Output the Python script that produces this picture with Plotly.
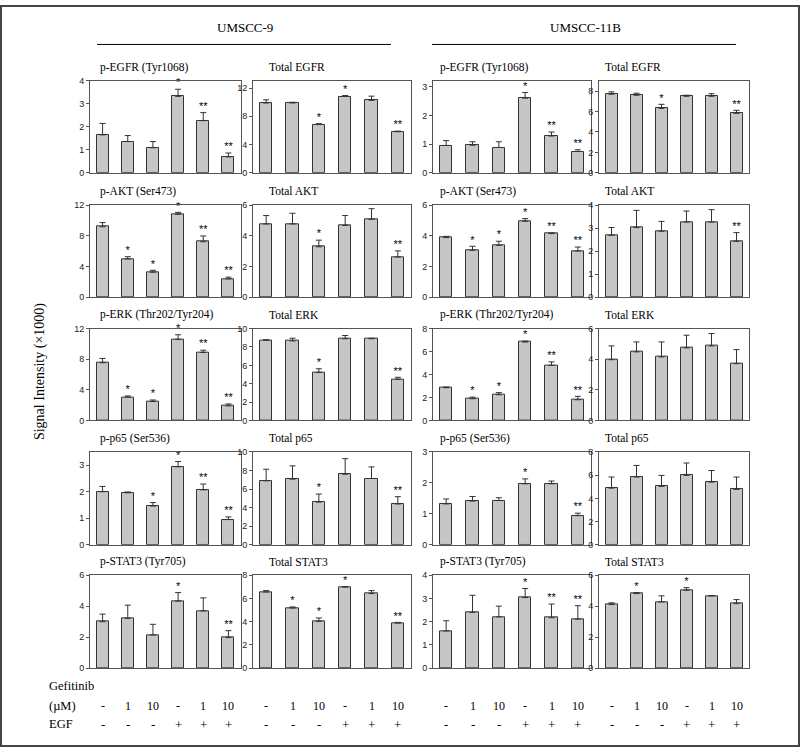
import plotly.graph_objects as go

W, H = 800, 752

# ---------------- data ----------------
conditions = [0, 1, 2, 3, 4, 5]
gefitinib_labels = ["-", "1", "10", "-", "1", "10"]
egf_labels = ["-", "-", "-", "+", "+", "+"]
cell_lines = ["UMSCC-9", "UMSCC-11B"]

row_titles = [
    ["p-EGFR (Tyr1068)", "Total EGFR", "p-EGFR (Tyr1068)", "Total EGFR"],
    ["p-AKT (Ser473)", "Total AKT", "p-AKT (Ser473)", "Total AKT"],
    ["p-ERK (Thr202/Tyr204)", "Total ERK", "p-ERK (Thr202/Tyr204)", "Total ERK"],
    ["p-p65 (Ser536)", "Total p65", "p-p65 (Ser536)", "Total p65"],
    ["p-STAT3 (Tyr705)", "Total STAT3", "p-STAT3 (Tyr705)", "Total STAT3"],
]

# UMSCC-9
pegfr_9 = [1.65, 1.36, 1.09, 3.33, 2.27, 0.69]
pegfr_9_err = [0.50, 0.26, 0.27, 0.31, 0.35, 0.17]
pegfr_9_sig = ["", "", "", "*", "**", "**"]
tegfr_9 = [9.88, 9.88, 6.83, 10.8, 10.25, 5.81]
tegfr_9_err = [0.45, 0.10, 0.12, 0.14, 0.60, 0.08]
tegfr_9_sig = ["", "", "*", "*", "", "**"]
pakt_9 = [9.19, 4.98, 3.25, 10.83, 7.24, 2.38]
pakt_9_err = [0.55, 0.30, 0.25, 0.25, 0.75, 0.22]
pakt_9_sig = ["", "*", "*", "*", "**", "**"]
takt_9 = [4.78, 4.78, 3.29, 4.68, 5.08, 2.62]
takt_9_err = [0.55, 0.70, 0.43, 0.65, 0.70, 0.40]
takt_9_sig = ["", "", "*", "", "", "**"]
perk_9 = [7.54, 3.03, 2.47, 10.6, 8.88, 1.90]
perk_9_err = [0.56, 0.17, 0.20, 0.60, 0.30, 0.25]
perk_9_sig = ["", "*", "*", "*", "**", "**"]
terk_9 = [8.74, 8.66, 5.23, 8.9, 8.9, 4.48]
terk_9_err = [0.05, 0.30, 0.40, 0.35, 0.05, 0.22]
terk_9_sig = ["", "", "*", "", "", "**"]
pp65_9 = [2.00, 1.96, 1.46, 2.94, 2.07, 0.95]
pp65_9_err = [0.20, 0.03, 0.13, 0.20, 0.22, 0.10]
pp65_9_sig = ["", "", "*", "*", "**", "**"]
tp65_9 = [6.89, 7.07, 4.60, 7.60, 7.14, 4.39]
tp65_9_err = [1.25, 1.43, 0.86, 1.68, 1.25, 0.79]
tp65_9_sig = ["", "", "*", "", "", "**"]
pstat3_9 = [3.00, 3.21, 2.14, 4.33, 3.70, 1.97]
pstat3_9_err = [0.49, 0.86, 0.69, 0.55, 0.84, 0.45]
pstat3_9_sig = ["", "", "", "*", "", "**"]
tstat3_9 = [6.56, 5.18, 4.03, 6.99, 6.42, 3.88]
tstat3_9_err = [0.12, 0.09, 0.29, 0.04, 0.26, 0.06]
tstat3_9_sig = ["", "*", "*", "*", "", "**"]

# UMSCC-11B
pegfr_11b = [0.95, 0.96, 0.88, 2.60, 1.28, 0.74]
pegfr_11b_err = [0.17, 0.12, 0.20, 0.20, 0.14, 0.06]
pegfr_11b_sig = ["", "", "", "*", "**", "**"]
tegfr_11b = [7.70, 7.60, 6.31, 7.50, 7.50, 5.82]
tegfr_11b_err = [0.23, 0.20, 0.40, 0.10, 0.25, 0.30]
tegfr_11b_sig = ["", "", "*", "", "", "**"]
pakt_11b = [3.89, 3.06, 3.38, 4.96, 4.15, 3.01]
pakt_11b_err = [0.08, 0.26, 0.27, 0.17, 0.04, 0.26]
pakt_11b_sig = ["", "*", "*", "*", "**", "**"]
takt_11b = [2.69, 3.03, 2.87, 3.27, 3.27, 2.43]
takt_11b_err = [0.34, 0.75, 0.43, 0.48, 0.54, 0.38]
takt_11b_sig = ["", "", "", "", "", "**"]
perk_11b = [2.85, 1.89, 2.24, 6.83, 4.80, 1.80]
perk_11b_err = [0.06, 0.14, 0.18, 0.08, 0.30, 0.30]
perk_11b_sig = ["", "*", "*", "*", "**", "**"]
terk_11b = [3.97, 4.48, 4.15, 4.74, 4.87, 3.71]
terk_11b_err = [0.90, 0.65, 0.98, 0.83, 0.81, 0.92]
terk_11b_sig = ["", "", "", "", "", ""]
pp65_11b = [1.32, 1.41, 1.43, 1.97, 1.97, 0.94]
pp65_11b_err = [0.16, 0.15, 0.09, 0.16, 0.09, 0.08]
pp65_11b_sig = ["", "", "", "*", "", "**"]
tp65_11b = [4.88, 5.84, 5.03, 5.98, 5.40, 4.77]
tp65_11b_err = [0.96, 1.00, 0.95, 1.07, 1.00, 1.07]
tp65_11b_sig = ["", "", "", "", "", ""]
pstat3_11b = [1.60, 2.40, 2.21, 3.04, 2.17, 2.11]
pstat3_11b_err = [0.44, 0.74, 0.46, 0.39, 0.59, 0.58]
pstat3_11b_sig = ["", "", "", "*", "**", "**"]
tstat3_11b = [4.11, 4.82, 4.28, 5.03, 4.67, 4.17]
tstat3_11b_err = [0.11, 0.06, 0.39, 0.17, 0.02, 0.26]
tstat3_11b_sig = ["", "*", "", "*", "", ""]

panels = [
    [(pegfr_9, pegfr_9_err, pegfr_9_sig), (tegfr_9, tegfr_9_err, tegfr_9_sig),
     (pegfr_11b, pegfr_11b_err, pegfr_11b_sig), (tegfr_11b, tegfr_11b_err, tegfr_11b_sig)],
    [(pakt_9, pakt_9_err, pakt_9_sig), (takt_9, takt_9_err, takt_9_sig),
     (pakt_11b, pakt_11b_err, pakt_11b_sig), (takt_11b, takt_11b_err, takt_11b_sig)],
    [(perk_9, perk_9_err, perk_9_sig), (terk_9, terk_9_err, terk_9_sig),
     (perk_11b, perk_11b_err, perk_11b_sig), (terk_11b, terk_11b_err, terk_11b_sig)],
    [(pp65_9, pp65_9_err, pp65_9_sig), (tp65_9, tp65_9_err, tp65_9_sig),
     (pp65_11b, pp65_11b_err, pp65_11b_sig), (tp65_11b, tp65_11b_err, tp65_11b_sig)],
    [(pstat3_9, pstat3_9_err, pstat3_9_sig), (tstat3_9, tstat3_9_err, tstat3_9_sig),
     (pstat3_11b, pstat3_11b_err, pstat3_11b_sig), (tstat3_11b, tstat3_11b_err, tstat3_11b_sig)],
]

y_max = [[4, 13, 3.2, 9], [12, 6, 6, 4], [12, 10, 8, 6], [3.5, 10, 3, 8], [6, 8, 4, 6]]
y_dtick = [[1, 4, 1, 2], [4, 2, 2, 1], [4, 2, 2, 2], [1, 2, 1, 2], [2, 2, 1, 2]]

# ---------------- layout (pixels) ----------------
col_x = [(90, 241), (253, 411), (433, 591), (599, 749)]
title_x = [98, 267, 438, 603]
row_y = [(77, 170), (203, 296), (328, 421), (453, 547), (578, 672)]

SERIF = "Liberation Serif, Times New Roman, serif"
SANS = "Liberation Sans, Arial, sans-serif"
BAR_FILL = "#c6c6c6"
DARK = "#333333"
AXIS = "#555555"


def px(x):
    return x / W


def py(y):
    return 1 - y / H


fig = go.Figure()
layout = {}
annotations = []
shapes = []

for r in range(5):
    for c in range(4):
        idx = r * 4 + c + 1
        xa = "x" if idx == 1 else f"x{idx}"
        ya = "y" if idx == 1 else f"y{idx}"
        vals, errs, sig = panels[r][c]
        fig.add_trace(go.Bar(
            x=conditions, y=vals, width=0.48,
            marker=dict(color=BAR_FILL, line=dict(color=DARK, width=1)),
            error_y=dict(type="data", array=errs, arrayminus=[0] * len(errs),
                         symmetric=False, color=DARK, thickness=1, width=3),
            xaxis=xa, yaxis=ya, showlegend=False, hoverinfo="skip",
        ))
        fig.add_trace(go.Scatter(
            x=conditions, y=[v + e for v, e in zip(vals, errs)], text=sig,
            mode="text", textposition="top center",
            textfont=dict(family=SANS, size=11, color="#000000"),
            xaxis=xa, yaxis=ya, showlegend=False, hoverinfo="skip",
            cliponaxis=False,
        ))
        x0, x1 = col_x[c]
        y0, y1 = row_y[r]
        layout["xaxis" if idx == 1 else f"xaxis{idx}"] = dict(
            domain=[px(x0), px(x1)], anchor=ya, range=[-0.5, 5.5],
            showticklabels=False, ticks="", showgrid=False, zeroline=False,
            showline=True, mirror=True, linecolor=AXIS, linewidth=1,
        )
        layout["yaxis" if idx == 1 else f"yaxis{idx}"] = dict(
            domain=[py(y1), py(y0)], anchor=xa, range=[0, y_max[r][c]],
            dtick=y_dtick[r][c], tick0=0, ticks="outside", ticklen=3,
            tickcolor=AXIS, tickfont=dict(family=SANS, size=9, color="#222"),
            showgrid=False, zeroline=False, showline=True, mirror=True,
            linecolor=AXIS, linewidth=1,
        )
        annotations.append(dict(
            text=row_titles[r][c], x=px(title_x[c]), y=py(y0 - 14),
            xref="paper", yref="paper", xanchor="left", yanchor="middle",
            showarrow=False, font=dict(family=SERIF, size=11.5, color="black"),
        ))
        if r == 4:
            for k in conditions:
                annotations.append(dict(
                    text=gefitinib_labels[k], x=k, y=py(710), xref=xa, yref="paper",
                    xanchor="center", yanchor="middle", showarrow=False,
                    font=dict(family=SERIF, size=12, color="black")))
                annotations.append(dict(
                    text=egf_labels[k], x=k, y=py(729), xref=xa, yref="paper",
                    xanchor="center", yanchor="middle", showarrow=False,
                    font=dict(family=SERIF, size=13, color="black")))

# column headers with underline
header_spans = [(97, 391), (432, 736)]
for name, (a, b) in zip(cell_lines, header_spans):
    annotations.append(dict(
        text=name, x=px((a + b) / 2 + 1), y=py(23), xref="paper", yref="paper",
        xanchor="center", yanchor="middle", showarrow=False,
        font=dict(family=SERIF, size=13, color="black")))
    shapes.append(dict(type="line", xref="paper", yref="paper",
                       x0=px(a), x1=px(b), y0=py(40), y1=py(40),
                       line=dict(color="black", width=1)))

# y-axis title
annotations.append(dict(
    text="Signal Intensity (\u00d71000)", x=px(40), y=py(372), xref="paper", yref="paper",
    xanchor="center", yanchor="middle", textangle=-90, showarrow=False,
    font=dict(family=SERIF, size=14, color="black")))

# row labels at bottom
for txt, yy in [("Gefitinib", 690), ("(\u00b5M)", 710), ("EGF", 729)]:
    annotations.append(dict(
        text=txt, x=px(47), y=py(yy), xref="paper", yref="paper",
        xanchor="left", yanchor="middle", showarrow=False,
        font=dict(family=SERIF, size=12.5, color="black")))

# outer frame
shapes.append(dict(type="rect", xref="paper", yref="paper",
                   x0=px(1), x1=px(799), y0=py(751), y1=py(1),
                   line=dict(color="#444444", width=2)))

fig.update_layout(
    width=W, height=H, margin=dict(l=0, r=0, t=0, b=0),
    paper_bgcolor="white", plot_bgcolor="white",
    annotations=annotations, shapes=shapes, bargap=0,
    font=dict(family=SERIF, color="black"),
    **layout,
)

fig.write_html(
    "out.html",
    config={"displayModeBar": False},
    post_script="document.body.style.margin='0';document.body.style.padding='0';"
                "document.body.style.overflow='hidden';",
)
